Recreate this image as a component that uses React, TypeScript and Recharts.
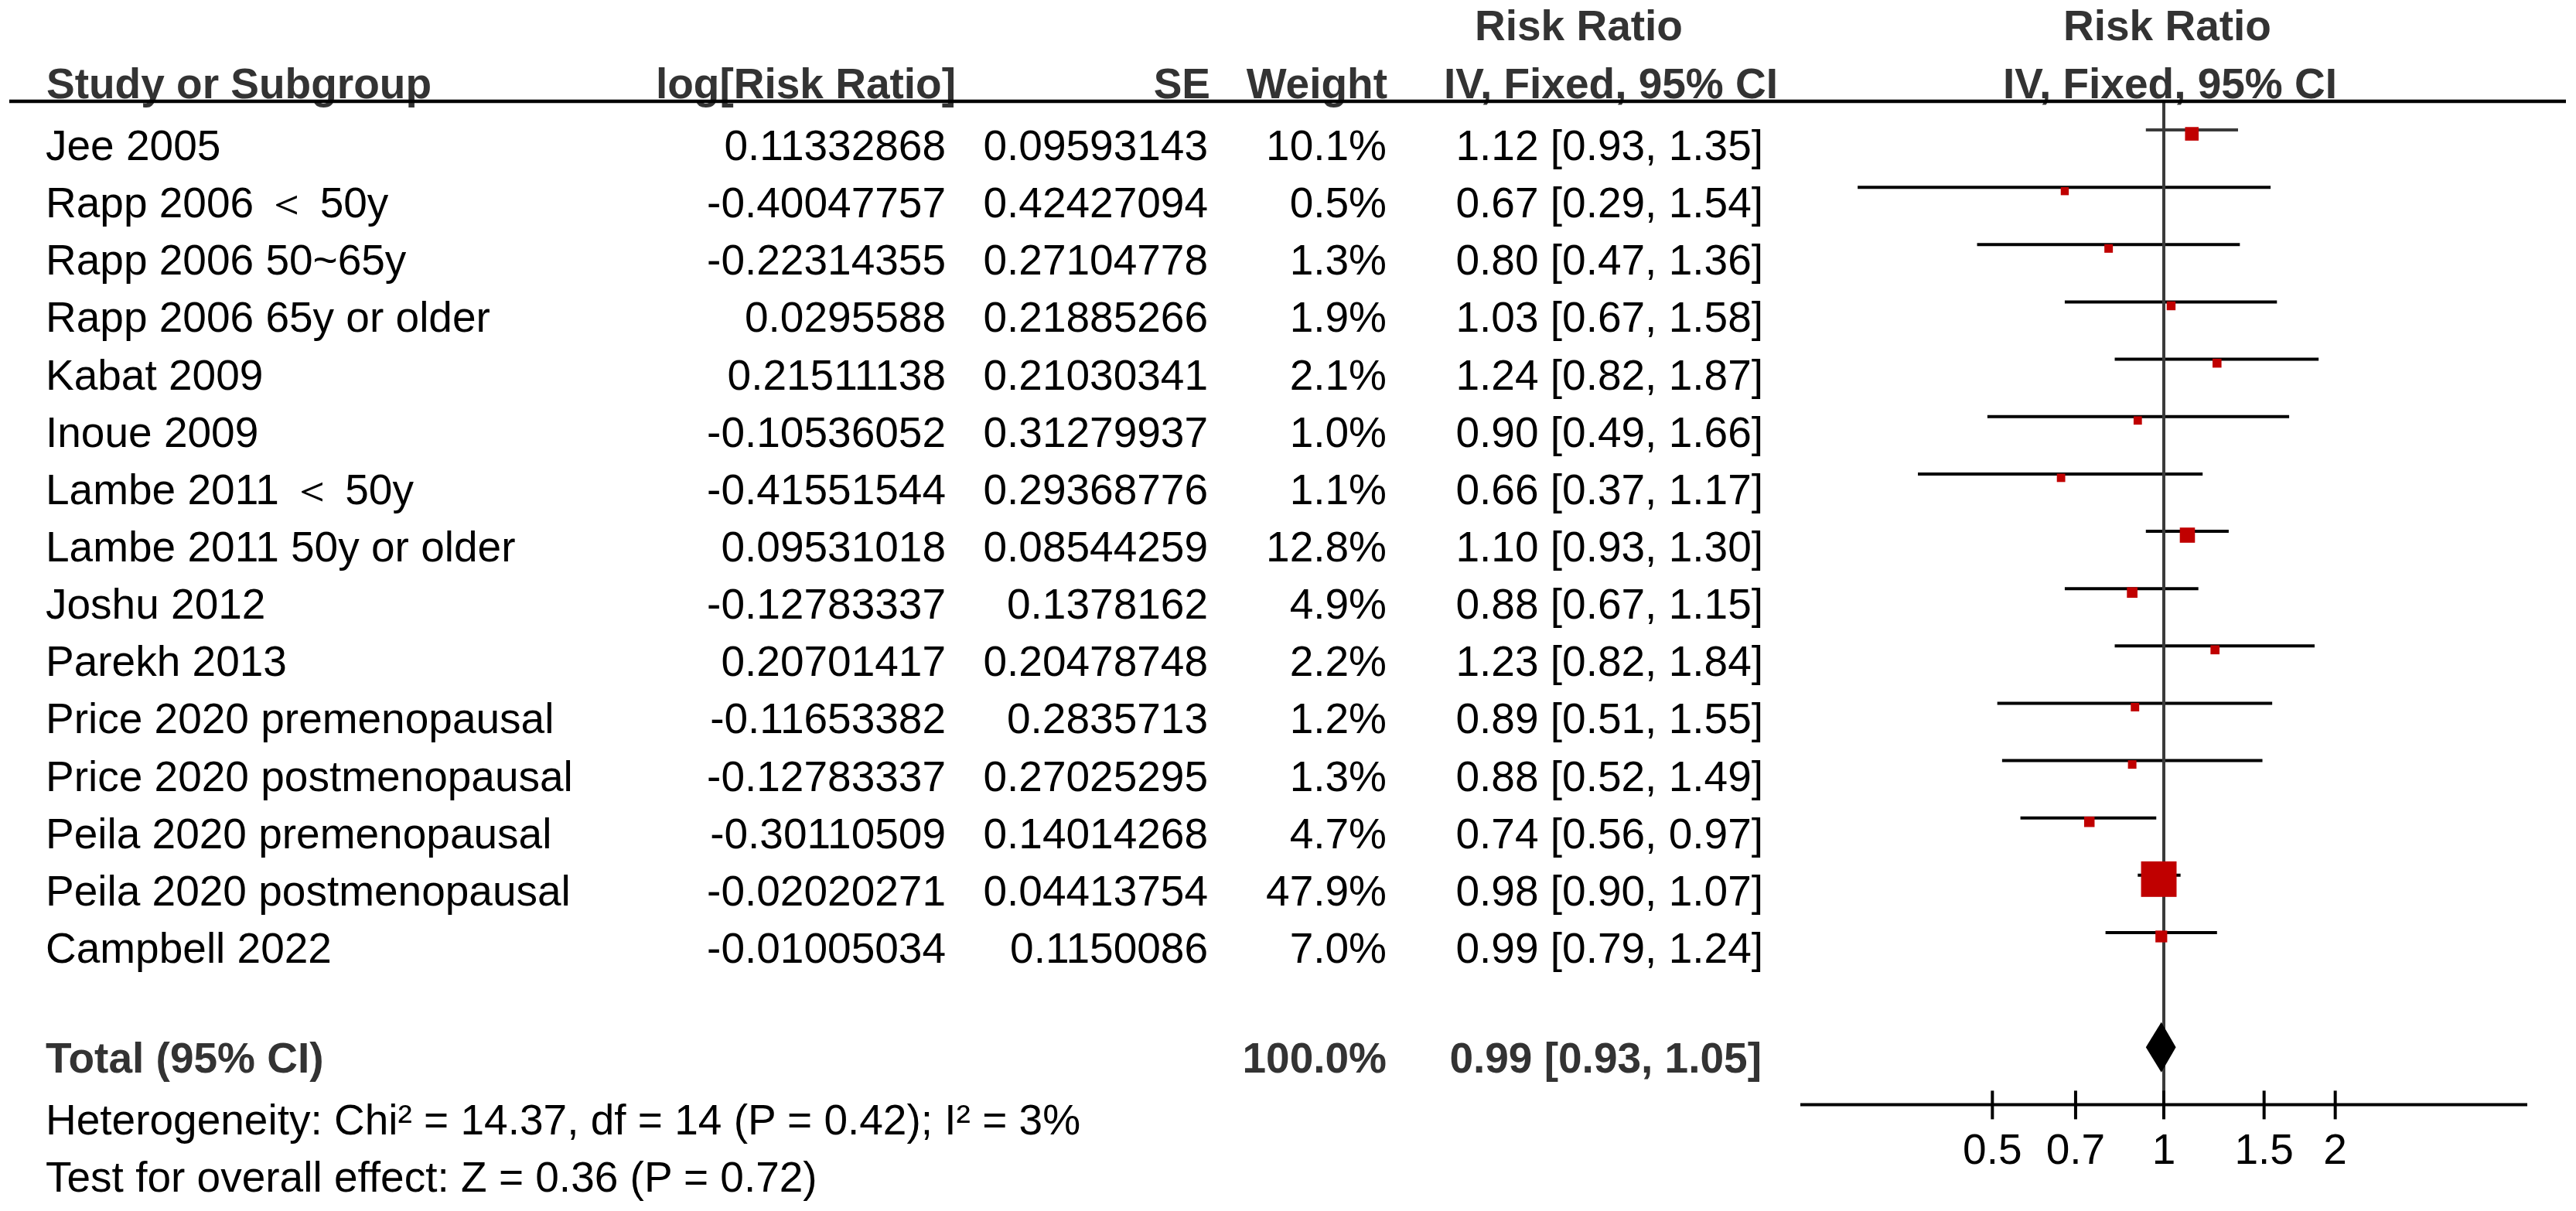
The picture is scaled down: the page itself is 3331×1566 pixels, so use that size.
import React from 'react';
import { ScatterChart, Scatter, XAxis, YAxis } from 'recharts';

// ---------- data ----------
const studies = [
  'Jee 2005',
  'Rapp 2006 ＜ 50y',
  'Rapp 2006 50~65y',
  'Rapp 2006 65y or older',
  'Kabat 2009',
  'Inoue 2009',
  'Lambe 2011 ＜ 50y',
  'Lambe 2011 50y or older',
  'Joshu 2012',
  'Parekh 2013',
  'Price 2020 premenopausal',
  'Price 2020 postmenopausal',
  'Peila 2020 premenopausal',
  'Peila 2020 postmenopausal',
  'Campbell 2022',
];
const logRiskRatio = [
  '0.11332868', '-0.40047757', '-0.22314355', '0.0295588', '0.21511138',
  '-0.10536052', '-0.41551544', '0.09531018', '-0.12783337', '0.20701417',
  '-0.11653382', '-0.12783337', '-0.30110509', '-0.02020271', '-0.01005034',
];
const standardError = [
  '0.09593143', '0.42427094', '0.27104778', '0.21885266', '0.21030341',
  '0.31279937', '0.29368776', '0.08544259', '0.1378162', '0.20478748',
  '0.2835713', '0.27025295', '0.14014268', '0.04413754', '0.1150086',
];
const weights = [10.1, 0.5, 1.3, 1.9, 2.1, 1.0, 1.1, 12.8, 4.9, 2.2, 1.2, 1.3, 4.7, 47.9, 7.0];
const riskRatio = [1.12, 0.67, 0.8, 1.03, 1.24, 0.9, 0.66, 1.1, 0.88, 1.23, 0.89, 0.88, 0.74, 0.98, 0.99];
const ciLower = [0.93, 0.29, 0.47, 0.67, 0.82, 0.49, 0.37, 0.93, 0.67, 0.82, 0.51, 0.52, 0.56, 0.9, 0.79];
const ciUpper = [1.35, 1.54, 1.36, 1.58, 1.87, 1.66, 1.17, 1.3, 1.15, 1.84, 1.55, 1.49, 0.97, 1.07, 1.24];

const totalWeight = 100.0;
const totalRR = 0.99;
const totalLower = 0.93;
const totalUpper = 1.05;

const axisTicks = [0.5, 0.7, 1, 1.5, 2];
const heterogeneityText = 'Heterogeneity: Chi² = 14.37, df = 14 (P = 0.42); I² = 3%';
const overallEffectText = 'Test for overall effect: Z = 0.36 (P = 0.72)';

// ---------- layout ----------
const W = 3331;
const H = 1566;
const PLOT_LEFT = 2328;
const PLOT_RIGHT = 3268;
const PLOT_TOP = 131;
const PLOT_BOTTOM = 1428.4;
const X_AXIS_H = 100;
const ROW_MIN = -0.5;
const ROW_MAX = 17;
const TOTAL_ROW = 16;
const ROW_H = (PLOT_BOTTOM - PLOT_TOP) / (ROW_MAX - ROW_MIN);
const rowY = (i: number) => PLOT_TOP + (i - ROW_MIN) * ROW_H;

const FONT = "'Liberation Sans', Arial, Helvetica, sans-serif";
const FS = 55;

const studyData = studies.map((name, i) => ({
  name,
  x: riskRatio[i],
  y: i,
  w: weights[i],
}));
const ciLineData = studies.map((_, i) => [
  { x: ciLower[i], y: i },
  { x: ciUpper[i], y: i },
]);
const nullLineData = [
  { x: 1, y: ROW_MIN },
  { x: 1, y: ROW_MAX },
];
const totalData = [
  { x: totalLower, y: TOTAL_ROW },
  { x: totalRR, y: TOTAL_ROW },
  { x: totalUpper, y: TOTAL_ROW },
];

const NoShape = () => <g />;

const SquareShape = (props: any) => {
  const { cx, cy, payload } = props;
  const s = 10 + 0.75 * payload.w;
  return <rect x={cx - s / 2} y={cy + 5 - s / 2} width={s} height={s} fill="#c00000" />;
};

const DiamondLine = (props: any) => {
  const pts = props.points || [];
  if (pts.length < 3) return null;
  const [a, b, c] = pts;
  const h = 32.5;
  const d = `M${a.x},${a.y} L${b.x},${b.y - h} L${c.x},${c.y} L${b.x},${b.y + h} Z`;
  return <path d={d} fill="#000" stroke="none" />;
};

const AxisTick = (props: any) => {
  const { x, y, payload } = props;
  return (
    <g>
      <line x1={x} x2={x} y1={y - 18} y2={y + 19} stroke="#000" strokeWidth={4} />
      <text x={x} y={y + 77} textAnchor="middle" fontSize={FS} fontFamily={FONT} fill="#000">
        {String(payload.value)}
      </text>
    </g>
  );
};

const T = ({ x, y, anchor = 'start', bold = false, color = '#000', children }: any) => (
  <text
    x={x}
    y={y}
    textAnchor={anchor}
    fontSize={FS}
    fontFamily={FONT}
    fontWeight={bold ? 'bold' : 'normal'}
    fill={color}
  >
    {children}
  </text>
);

const HEAD = '#333333';

const TableText = () => (
  <svg
    width={W}
    height={H}
    style={{ position: 'absolute', left: 0, top: 0, pointerEvents: 'none' }}
  >
    <T x={1907} y={52} bold color={HEAD}>Risk Ratio</T>
    <T x={2668} y={52} bold color={HEAD}>Risk Ratio</T>
    <T x={60} y={127} bold color={HEAD}>Study or Subgroup</T>
    <T x={1236} y={127} anchor="end" bold color={HEAD}>log[Risk Ratio]</T>
    <T x={1565} y={127} anchor="end" bold color={HEAD}>SE</T>
    <T x={1794} y={127} anchor="end" bold color={HEAD}>Weight</T>
    <T x={1867} y={127} bold color={HEAD}>IV, Fixed, 95% CI</T>
    <T x={2590} y={127} bold color={HEAD}>IV, Fixed, 95% CI</T>
    <line x1={12} x2={3318} y1={131} y2={131} stroke="#000" strokeWidth={4.5} />
    {studies.map((name, i) => {
      const by = rowY(i) + 39;
      return (
        <g key={name + i}>
          <T x={59} y={by}>{name}</T>
          <T x={1223} y={by} anchor="end">{logRiskRatio[i]}</T>
          <T x={1562} y={by} anchor="end">{standardError[i]}</T>
          <T x={1793} y={by} anchor="end">{weights[i].toFixed(1) + '%'}</T>
          <T x={2280} y={by} anchor="end">
            {`${riskRatio[i].toFixed(2)} [${ciLower[i].toFixed(2)}, ${ciUpper[i].toFixed(2)}]`}
          </T>
        </g>
      );
    })}
    <T x={59} y={1387} bold color={HEAD}>Total (95% CI)</T>
    <T x={1793} y={1387} anchor="end" bold color={HEAD}>{totalWeight.toFixed(1) + '%'}</T>
    <T x={2278} y={1387} anchor="end" bold color={HEAD}>
      {`${totalRR.toFixed(2)} [${totalLower.toFixed(2)}, ${totalUpper.toFixed(2)}]`}
    </T>
    <T x={59} y={1467}>{heterogeneityText}</T>
    <T x={59} y={1541}>{overallEffectText}</T>
  </svg>
);

export default function App() {
  return (
    <div
      style={{
        position: 'absolute',
        left: 0,
        top: 0,
        width: W,
        height: H,
        background: '#fff',
        overflow: 'hidden',
      }}
    >
      <ScatterChart
        width={W}
        height={H}
        margin={{
          top: PLOT_TOP,
          left: PLOT_LEFT,
          right: W - PLOT_RIGHT,
          bottom: H - PLOT_BOTTOM - X_AXIS_H,
        }}
      >
        <XAxis
          type="number"
          dataKey="x"
          scale="log"
          domain={[0.23, 1 / 0.23]}
          allowDataOverflow
          ticks={axisTicks}
          interval={0}
          height={X_AXIS_H}
          axisLine={{ stroke: '#000', strokeWidth: 4 }}
          tickLine={false}
          tickSize={0}
          tickMargin={0}
          tick={<AxisTick />}
        />
        <YAxis type="number" dataKey="y" domain={[ROW_MIN, ROW_MAX]} reversed hide width={0} allowDataOverflow />
        {ciLineData.map((seg, i) => (
          <Scatter
            key={'ci' + i}
            data={seg}
            line={{ stroke: i === 0 ? '#3a3a3a' : '#000', strokeWidth: 4 }}
            shape={NoShape}
            isAnimationActive={false}
          />
        ))}
        <Scatter
          data={nullLineData}
          line={{ stroke: '#3a3a3a', strokeWidth: 4 }}
          shape={NoShape}
          isAnimationActive={false}
        />
        <Scatter data={studyData} shape={SquareShape} isAnimationActive={false} />
        <Scatter
          data={totalData}
          line={<DiamondLine />}
          shape={NoShape}
          isAnimationActive={false}
        />
      </ScatterChart>
      <TableText />
    </div>
  );
}
